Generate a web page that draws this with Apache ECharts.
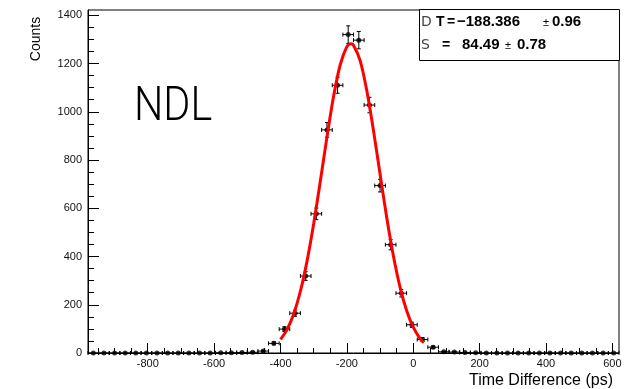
<!DOCTYPE html>
<html><head><meta charset="utf-8">
<script src="https://cdn.jsdelivr.net/npm/echarts@6/dist/echarts.min.js"></script>
<style>html,body{margin:0;padding:0;background:#fff}#c{width:636px;height:389px}</style>
</head><body><div id="c"></div>
<script>
const binCenters = [-964,-932,-900,-868,-836,-804,-772,-740,-708,-676,-644,-612,-580,-548,-516,-484,-452,-420,-388,-356,-324,-292,-260,-228,-196,-164,-132,-100,-68,-36,-4,28,60,92,124,156,188,220,252,284,316,348,380,412,444,476,508,540,572,604];
const counts = [0,0,0,0,0,0,0,0,0,0,0,0,1,1,2,3,8,40,99,165,319,577,925,1110,1320,1297,1028,694,449,248,117,56,24,5,4,2,1,0,0,0,0,0,0,0,0,0,0,0,0,0];
const countErrors = [0,0,0,0,0,0,0,0,0,0,0,0,1,1,1.4,1.7,2.8,6.3,9.9,12.8,17.9,24,30.4,33.3,36.3,36,32.1,26.3,21.2,15.7,10.8,7.5,4.9,2.2,2,1.4,1,0,0,0,0,0,0,0,0,0,0,0,0,0];
const binHalfWidth = 16;
const fitX = [-400,-380,-360,-340,-320,-300,-280,-260,-240,-220,-200,-188,-180,-160,-140,-120,-100,-80,-60,-40,-20,0,20,32];
const fitY = [56,98,163,256,381,536,712,895,1064,1195,1270,1282,1276,1212,1088,924,742,563,404,274,176,107,61,43];
const xTickLabels = [-800,-600,-400,-200,0,200,400,600];
const yTickLabels = [0,200,400,600,800,1000,1200,1400];
const xMinorTicks = [];
for (let v = -950; v <= 600; v += 50) if (v % 200 !== 0) xMinorTicks.push(v);
const yMinorTicks = [];
for (let v = 50; v <= 1400; v += 50) if (v % 200 !== 0) yMinorTicks.push(v);

const font = '"Liberation Sans", Arial, sans-serif';
const X_MIN = -980, X_MAX = 620, Y_MIN = 0, Y_MAX = 1422;

const points = binCenters.map((x, i) => [x, counts[i], binHalfWidth, countErrors[i]]);
const fitData = fitX.map((x, i) => [x, fitY[i]]);

const chart = echarts.init(document.getElementById('c'), null, {renderer: 'canvas'});
const baseX = {type: 'value', min: X_MIN, max: X_MAX, gridIndex: 0, splitLine: {show: false}};
const baseY = {type: 'value', min: Y_MIN, max: Y_MAX, gridIndex: 0, splitLine: {show: false}};
const plain = v => String(v);
chart.setOption({
  animation: false,
  backgroundColor: '#fff',
  grid: {left: 88, right: 17, top: 10, bottom: 36, show: true, borderColor: '#000', borderWidth: 1, backgroundColor: 'transparent'},
  xAxis: [
    Object.assign({}, baseX, {
      position: 'bottom',
      axisLine: {show: true, onZero: false, lineStyle: {color: '#000', width: 1}},
      axisTick: {show: true, inside: true, length: 10, customValues: xTickLabels, lineStyle: {color: '#000'}},
      axisLabel: {show: true, customValues: xTickLabels, formatter: plain, margin: 5, color: '#111', fontFamily: font, fontSize: 11}
    }),
    Object.assign({}, baseX, {
      position: 'bottom',
      axisLine: {show: false, onZero: false},
      axisTick: {show: true, inside: true, length: 5, customValues: xMinorTicks, lineStyle: {color: '#000'}},
      axisLabel: {show: false}
    })
  ],
  yAxis: [
    Object.assign({}, baseY, {
      position: 'left',
      axisLine: {show: true, onZero: false, lineStyle: {color: '#000', width: 1}},
      axisTick: {show: true, inside: true, length: 11, customValues: yTickLabels, lineStyle: {color: '#000'}},
      axisLabel: {show: true, customValues: yTickLabels, formatter: plain, margin: 6, color: '#111', fontFamily: font, fontSize: 11}
    }),
    Object.assign({}, baseY, {
      position: 'left',
      axisLine: {show: false, onZero: false},
      axisTick: {show: true, inside: true, length: 6, customValues: yMinorTicks, lineStyle: {color: '#000'}},
      axisLabel: {show: false}
    })
  ],
  series: [
    {
      type: 'custom',
      xAxisIndex: 0, yAxisIndex: 0,
      data: points,
      z: 2,
      renderItem: function (params, api) {
        const x = api.value(0), y = api.value(1), ex = api.value(2), ey = api.value(3);
        const pL = api.coord([x - ex, y]), pR = api.coord([x + ex, y]);
        const pB = api.coord([x, y - ey]), pT = api.coord([x, y + ey]);
        const st = {stroke: '#000', lineWidth: 1};
        const c = 2;
        const children = [
          {type: 'line', shape: {x1: pL[0], y1: pL[1], x2: pR[0], y2: pR[1]}, style: st},
          {type: 'line', shape: {x1: pL[0], y1: pL[1] - c, x2: pL[0], y2: pL[1] + c}, style: st},
          {type: 'line', shape: {x1: pR[0], y1: pR[1] - c, x2: pR[0], y2: pR[1] + c}, style: st}
        ];
        if (ey > 0) {
          children.push({type: 'line', shape: {x1: pB[0], y1: pB[1], x2: pT[0], y2: pT[1]}, style: st});
          children.push({type: 'line', shape: {x1: pT[0] - c, y1: pT[1], x2: pT[0] + c, y2: pT[1]}, style: st});
          children.push({type: 'line', shape: {x1: pB[0] - c, y1: pB[1], x2: pB[0] + c, y2: pB[1]}, style: st});
        }
        return {type: 'group', children: children};
      }
    },
    {
      type: 'scatter',
      xAxisIndex: 0, yAxisIndex: 0,
      data: points.map(p => [p[0], p[1]]),
      symbol: 'circle', symbolSize: 5,
      itemStyle: {color: '#000'},
      z: 3
    },
    {
      type: 'line',
      xAxisIndex: 0, yAxisIndex: 0,
      data: fitData,
      smooth: 0.3,
      showSymbol: false,
      lineStyle: {color: '#ff0000', width: 3},
      z: 4
    }
  ],
  graphic: [
    {type: 'text', x: 134, y: 108, z: 10, scaleX: 0.86,
     style: {text: 'NDL', font: '300 48px Roboto, "Liberation Sans", sans-serif', fill: '#000', verticalAlign: 'middle'}},
    {type: 'text', x: 36, y: 39, rotation: Math.PI / 2, z: 10,
     style: {text: 'Counts', font: '14px ' + font, fill: '#000', align: 'center', verticalAlign: 'middle'}},
    {type: 'text', x: 613, y: 381, z: 10,
     style: {text: 'Time Difference (ps)', font: '16px ' + font, fill: '#000', align: 'right', verticalAlign: 'middle'}},
    {type: 'rect', shape: {x: 419.5, y: 9.5, width: 200, height: 51}, z: 10,
     style: {fill: '#fff', stroke: '#000', lineWidth: 1}},
    {type: 'text', x: 421, y: 22, z: 11, style: {text: 'D', font: '14px "DejaVu Sans", sans-serif', fill: '#444', verticalAlign: 'middle'}},
    {type: 'text', x: 436, y: 22, z: 11, style: {text: 'T', font: 'bold 14px ' + font, fill: '#000', verticalAlign: 'middle'}},
    {type: 'text', x: 447, y: 22, z: 11, style: {text: '=', font: 'bold 14px ' + font, fill: '#000', verticalAlign: 'middle'}},
    {type: 'text', x: 457, y: 22, z: 11, style: {text: '\u2212188.386', font: 'bold 15px ' + font, fill: '#000', verticalAlign: 'middle'}},
    {type: 'text', x: 543, y: 23, z: 11, style: {text: '\u00b1', font: '11px ' + font, fill: '#000', verticalAlign: 'middle'}},
    {type: 'text', x: 552, y: 22, z: 11, style: {text: '0.96', font: 'bold 15px ' + font, fill: '#000', verticalAlign: 'middle'}},
    {type: 'text', x: 421, y: 45, z: 11, style: {text: 'S', font: '14px "DejaVu Sans", sans-serif', fill: '#444', verticalAlign: 'middle'}},
    {type: 'text', x: 442, y: 45, z: 11, style: {text: '=', font: 'bold 14px ' + font, fill: '#000', verticalAlign: 'middle'}},
    {type: 'text', x: 462, y: 45, z: 11, style: {text: '84.49', font: 'bold 15px ' + font, fill: '#000', verticalAlign: 'middle'}},
    {type: 'text', x: 505, y: 46, z: 11, style: {text: '\u00b1', font: '11px ' + font, fill: '#000', verticalAlign: 'middle'}},
    {type: 'text', x: 517, y: 45, z: 11, style: {text: '0.78', font: 'bold 15px ' + font, fill: '#000', verticalAlign: 'middle'}}
  ]
});
</script>
</body></html>
